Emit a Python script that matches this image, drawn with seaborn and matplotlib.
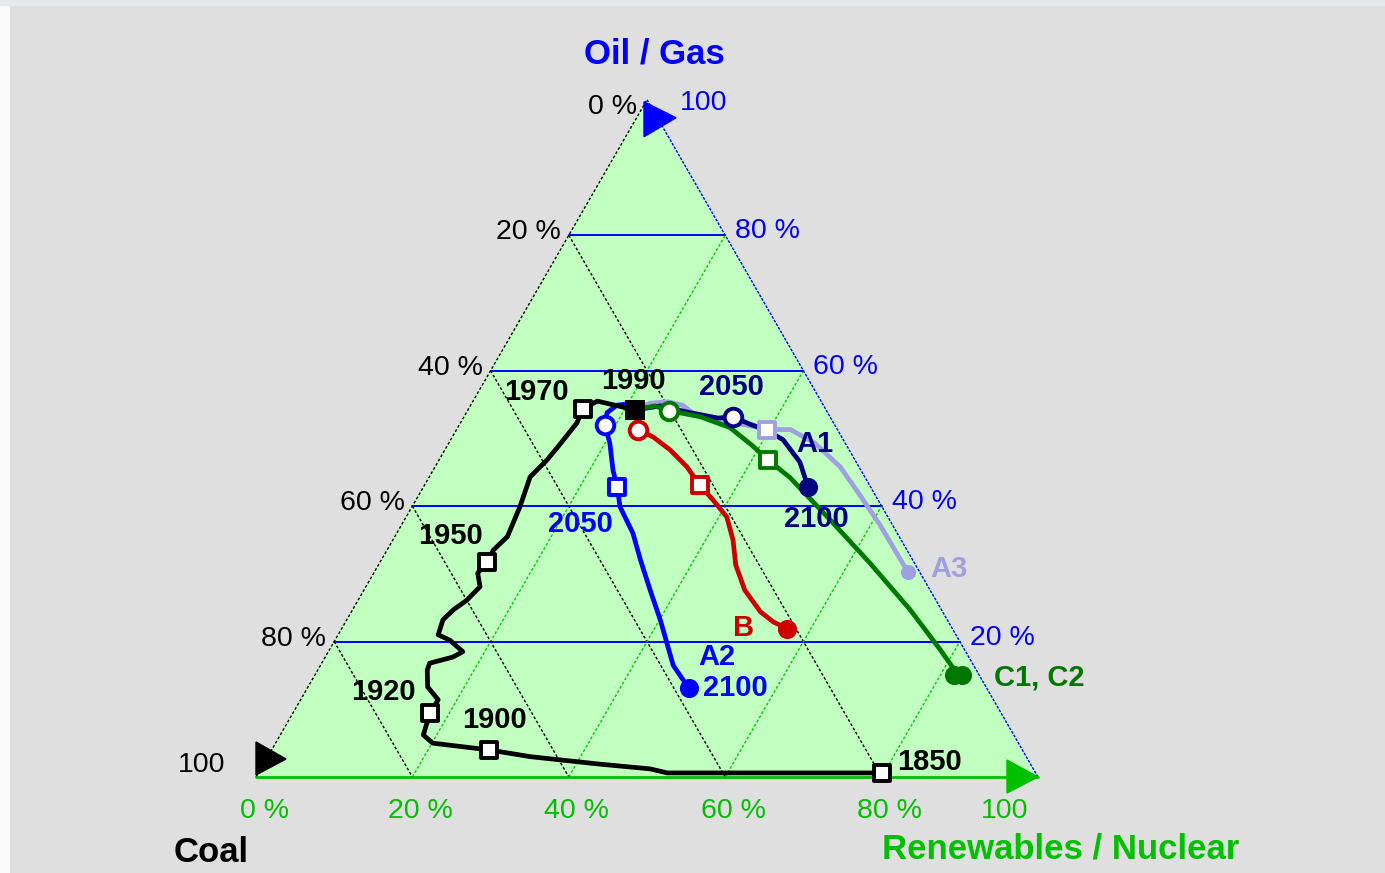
import numpy as np
import pandas as pd
import seaborn as sns
import matplotlib.pyplot as plt
from matplotlib.patches import Polygon, Rectangle

sns.set_theme(style="white")
plt.rcParams['font.family'] = ['Liberation Sans', 'DejaVu Sans']

# shares in % : oil/gas and renewables/nuclear, coal is the remainder
hist_oil = [0.6, 0.6, 1.2, 1.9, 3.0, 4.0, 5.0, 6.2, 9.5, 11.4, 13.3, 15.8, 16.8, 17.7, 18.5, 20.2, 21.0,
            23.2, 24.7, 26.1, 28.1, 30.1, 31.8, 33.5, 35.5, 39.9, 44.3, 46.8, 48.6, 52.3, 54.4, 55.5, 54.2]
hist_ren = [79.7, 52.3, 49.8, 43.0, 33.6, 27.8, 20.1, 18.3, 17.5, 17.6, 15.3, 14.0, 13.8, 16.3, 17.2, 14.7, 12.8,
            12.3, 12.9, 13.9, 14.6, 13.3, 13.7, 13.6, 14.4, 13.8, 12.9, 13.8, 14.2, 14.9, 14.6, 15.9, 21.4]

a1_oil = [54.2, 54.8, 53.8, 53.0, 53.2, 52.1, 51.3, 49.8, 46.5, 42.8]
a1_ren = [21.4, 24.3, 28.6, 32.6, 34.4, 37.1, 39.5, 42.5, 46.3, 49.2]

a2_oil = [54.2, 55.2, 54.9, 53.8, 52.0, 49.3, 45.3, 42.8, 39.9, 36.0, 32.1, 27.6, 23.2, 16.5, 13.1]
a2_ren = [21.4, 20.7, 18.7, 18.0, 18.6, 20.6, 23.0, 24.8, 26.6, 30.2, 33.1, 36.6, 40.1, 45.1, 48.8]

a3_oil = [54.2, 55.2, 55.4, 54.9, 53.8, 52.6, 52.0, 51.3, 51.3, 49.3, 45.8, 42.1, 37.2, 30.3]
a3_ren = [21.4, 22.8, 25.0, 27.1, 28.9, 33.0, 36.5, 39.7, 42.7, 46.8, 51.8, 55.9, 61.2, 68.2]

b_oil = [54.2, 51.3, 50.2, 48.3, 45.8, 43.1, 40.9, 38.4, 35.0, 31.3, 27.6, 24.4, 22.9, 21.9]
b_ren = [21.4, 23.2, 25.7, 28.8, 32.2, 35.2, 38.0, 41.0, 43.5, 45.7, 48.7, 52.3, 54.7, 57.0]

c_oil = [54.2, 54.8, 54.1, 53.2, 51.6, 49.0, 46.8, 44.2, 38.0, 31.6, 24.7, 18.8, 15.1]
c_ren = [21.4, 23.6, 25.7, 30.2, 34.8, 38.9, 42.1, 46.2, 54.4, 62.7, 71.3, 78.1, 82.2]

# milestone markers (oil %, renewables %)
hist_years = ["1850", "1900", "1920", "1950", "1970"]
hist_mark_oil = [0.6, 4.0, 9.5, 31.8, 54.4]
hist_mark_ren = [79.7, 27.8, 17.5, 13.7, 14.6]
start_1990 = (54.2, 21.4)

open_square = {"A2": (42.8, 24.8), "B": (43.1, 35.2), "A3": (51.3, 39.7), "C": (46.8, 42.1)}
open_circle = {"A2": (52.0, 18.6), "B": (51.3, 23.2), "A1": (53.2, 34.4), "C": (54.1, 25.7)}
end_2100 = {"A1": (42.8, 49.2), "A2": (13.1, 48.8), "B": (21.9, 57.0), "A3": (30.3, 68.2),
            "C": (15.1, 82.2)}

ticks = [0, 20, 40, 60, 80, 100]

colors = {"hist": "#000000", "A3": "#a0a0e0", "A1": "#000080", "C": "#007800",
          "B": "#cc0000", "A2": "#0000ff"}
paths = {"A3": (a3_oil, a3_ren), "A1": (a1_oil, a1_ren), "C": (c_oil, c_ren),
         "B": (b_oil, b_ren), "A2": (a2_oil, a2_ren), "hist": (hist_oil, hist_ren)}

H = np.sqrt(3) / 2
PX = 1 / 782.0  # one pixel in data units


def tern(oil, ren):
    oil = np.asarray(oil, float) / 100
    ren = np.asarray(ren, float) / 100
    return ren + oil / 2, oil * H


fig = plt.figure(figsize=(13.85, 8.73), dpi=100, facecolor="#dfdfdf")
# screenshot frame: white strip on the left, light strip on top
fig.patches.append(Rectangle((0, 0), 9 / 1385, 1, transform=fig.transFigure, color="#fbfbfb", zorder=-1))
fig.patches.append(Rectangle((0, 1 - 5 / 873), 1, 5 / 873, transform=fig.transFigure, color="#e6e9ed", zorder=-1))

ax = fig.add_axes([0, 0, 1, 1])
ax.set_xlim(-256 * PX, (1385 - 256) * PX)
ax.set_ylim((777 - 873) * PX, 777 * PX)
ax.axis("off")

# triangle body
ax.fill([0, 1, 0.5], [0, 0, H], color="#c0ffc0", zorder=0)

# grid lines
for k in ticks[1:-1]:
    x, y = tern([100 - k, 0], [0, 100 - k])          # constant coal
    ax.plot(x, y, color="black", lw=1, ls=(0, (2, 1.5)), zorder=1)
    x, y = tern([0, 100 - k], [k, k])                # constant renewables
    ax.plot(x, y, color="#00cc00", lw=1, ls=(0, (2, 1.5)), zorder=1)
    x, y = tern([k, k], [0, 100 - k])                # constant oil/gas
    ax.plot(x, y, color="#0000ff", lw=1.4, zorder=1)

# edges
ax.plot([0, 0.5], [0, H], color="black", lw=1, ls=(0, (2, 1.5)), zorder=1)
ax.plot([0.5, 1], [H, 0], color="#0000ff", lw=1, ls=(0, (2, 1)), zorder=1)
ax.plot([0, 1], [0, 0], color="#00c000", lw=2, zorder=1)

# axis arrows
ax.add_patch(Polygon([(0, 2 * PX), (0, 35 * PX), (30 * PX, 18 * PX)], color="black", zorder=2))
ax.add_patch(Polygon([(0.5 - 3 * PX, H - 2 * PX), (0.5 - 3 * PX, H - 37 * PX),
                      (0.5 + 29 * PX, H - 18 * PX)], color="#0000ff", zorder=2))
ax.add_patch(Polygon([(1 - 31 * PX, 17 * PX), (1 - 31 * PX, -16 * PX), (1, 0)],
                     color="#00c000", zorder=2))

# scenario paths
frames = []
for name, (o, r) in paths.items():
    x, y = tern(o, r)
    frames.append(pd.DataFrame({"x": x, "y": y, "scenario": name}))
df = pd.concat(frames, ignore_index=True)
sns.lineplot(data=df, x="x", y="y", hue="scenario", hue_order=list(paths), palette=colors,
             units="scenario", estimator=None, sort=False, linewidth=3.4, legend=False,
             ax=ax, zorder=3)

# markers
x, y = tern(hist_mark_oil, hist_mark_ren)
sns.scatterplot(x=x, y=y, marker="s", s=130, color="white", edgecolor="black", linewidth=2.8,
                ax=ax, zorder=5)
for name, (o, r) in open_square.items():
    x, y = tern([o], [r])
    sns.scatterplot(x=x, y=y, marker="s", s=130, color="white", edgecolor=colors[name],
                    linewidth=2.8, ax=ax, zorder=5)
for name, (o, r) in open_circle.items():
    x, y = tern([o], [r])
    sns.scatterplot(x=x, y=y, marker="o", s=160, color="white", edgecolor=colors[name],
                    linewidth=2.8, ax=ax, zorder=5)
for name, (o, r) in end_2100.items():
    x, y = tern([o], [r])
    size = 120 if name == "A3" else 190
    if name == "C":
        x = np.array([x[0] - 4 * PX, x[0] + 4 * PX])
        y = np.array([y[0], y[0]])
    sns.scatterplot(x=x, y=y, marker="o", s=size, color=colors[name], edgecolor=colors[name],
                    linewidth=0, ax=ax, zorder=5)
x, y = tern([start_1990[0]], [start_1990[1]])
sns.scatterplot(x=x, y=y, marker="s", s=190, color="black", linewidth=0, ax=ax, zorder=6)

# path labels (offsets in pixels from the marker)
lab = dict(textcoords="offset pixels", fontsize=21, fontweight="bold", va="center", zorder=7)
hist_offsets = [(16, 11, "left"), (5, 30, "center"), (-47, 21, "center"),
                (-37, 26, "center"), (-46, 17, "center")]
for yr, o, r, (dx, dy, ha) in zip(hist_years, hist_mark_oil, hist_mark_ren, hist_offsets):
    ax.annotate(yr, tern(o, r), xytext=(dx, dy), ha=ha, color="black", **lab)
ax.annotate("1990", tern(*start_1990), xytext=(-2, 29), ha="center", color="black", **lab)
ax.annotate("2050", tern(*open_circle["A1"]), xytext=(-2, 30), ha="center", color=colors["A1"], **lab)
ax.annotate("A1", tern(*end_2100["A1"]), xytext=(7, 43), ha="center", color=colors["A1"], **lab)
ax.annotate("2100", tern(*end_2100["A1"]), xytext=(8, -32), ha="center", color=colors["A1"], **lab)
ax.annotate("2050", tern(*open_square["A2"]), xytext=(-37, -37), ha="center", color=colors["A2"], **lab)
ax.annotate("A2", tern(*end_2100["A2"]), xytext=(28, 31), ha="center", color=colors["A2"], **lab)
ax.annotate("2100", tern(*end_2100["A2"]), xytext=(14, 0), ha="left", color=colors["A2"], **lab)
ax.annotate("B", tern(*end_2100["B"]), xytext=(-44, 1), ha="center", color=colors["B"], **lab)
ax.annotate("A3", tern(*end_2100["A3"]), xytext=(22, 3), ha="left", color=colors["A3"], **lab)
ax.annotate("C1, C2", tern(*end_2100["C"]), xytext=(36, -3), ha="left", color=colors["C"], **lab)

# tick labels
tk = dict(textcoords="offset pixels", fontsize=20.5, va="center")
for k in ticks:
    # coal on the left edge (point with oil = k)
    coal = 100 - k
    txt = "100" if coal == 100 else f"{coal} %"
    dx, dy = (-31, 12) if coal == 100 else (-8, 3)
    if coal == 0:
        dx, dy = (-10, -7)
    ax.annotate(txt, tern(k, 0), xytext=(dx, dy), ha="right", color="black", **tk)
    # oil/gas on the right edge
    txt = "100" if k == 100 else f"{k} %"
    if k > 0:
        dx, dy = (33, -3) if k == 100 else (10, 4)
        ax.annotate(txt, tern(k, 100 - k), xytext=(dx, dy), ha="left", color="#0000ff", **tk)
    # renewables on the bottom edge
    if k == 100:
        ax.annotate(txt, tern(0, k), xytext=(-10, -34), ha="right", color="#00c000", **tk)
    else:
        ax.annotate(txt, tern(0, k), xytext=(8, -34), ha="center", color="#00c000", **tk)

# axis titles
ttl = dict(fontsize=25, fontweight="bold", va="center")
ax.annotate("Oil / Gas", (0.5, H), xytext=(7, 46), textcoords="offset pixels", ha="center",
            color="#0000ff", **ttl)
ax.annotate("Coal", (0, 0), xytext=(-45, -76), textcoords="offset pixels", ha="center",
            color="black", **ttl)
ax.annotate("Renewables / Nuclear", (1, 0), xytext=(23, -72), textcoords="offset pixels",
            ha="center", color="#00c000", **ttl)

fig.savefig("out.png", dpi=100, facecolor=fig.get_facecolor())
